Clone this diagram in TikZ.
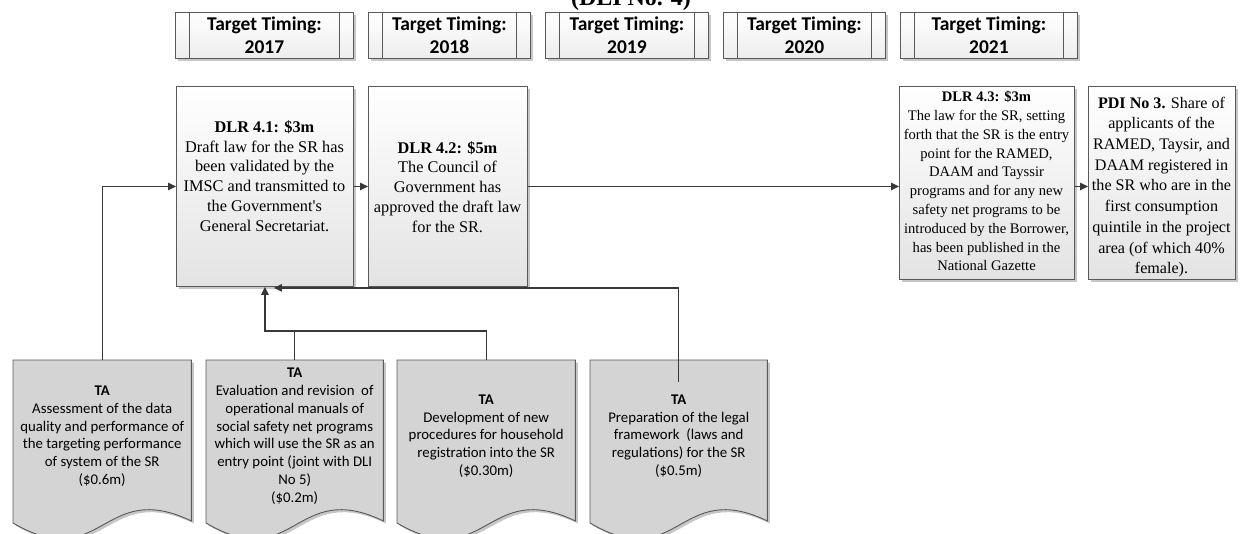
\documentclass[tikz,border=0pt]{standalone}
\usepackage{fontspec}
\setmainfont{Liberation Serif}
\newfontfamily\calfont{Carlito}
\usetikzlibrary{arrows.meta,calc,shadows}
\pgfdeclarelayer{bg}
\pgfsetlayers{bg,main}

\tikzset{
  boxline/.style={draw=black!65, line width=0.9pt},
  boxshadow/.style={drop shadow={shadow xshift=2.5pt,shadow yshift=-2.5pt,fill=black!40,opacity=0.55}},
  timebox/.style={boxline, boxshadow, top color=white, bottom color=black!7,
    minimum height=46pt, inner sep=0pt, anchor=north west, align=center,
    font=\calfont\bfseries\fontsize{19.5}{23.5}\selectfont},
  dlrbox/.style={boxline, boxshadow, top color=white, bottom color=black!11,
    inner sep=0pt, anchor=north west},
  dlrtext/.style={align=center, inner sep=0pt},
  tanode/.style={anchor=north west, minimum height=152pt, inner sep=0pt, align=center,
    font=\calfont\fontsize{14.8}{17.8}\selectfont},
  taout/.style={boxline, fill=black!17, boxshadow},
  link/.style={draw=black!78, line width=1.2pt},
  arrowlink/.style={link, -{Triangle[length=8pt,width=7.5pt]}},
}

\begin{document}
\begin{tikzpicture}[x=1pt,y=-1pt]
\useasboundingbox (0,0) rectangle (1248,533);
\clip (0,0) rectangle (1248,533);

% heading
\node[font=\bfseries\fontsize{24}{28}\selectfont, anchor=base] (title) at (631,5) {(DLI No. 4)};

% target timing boxes
\node[timebox, minimum width=178pt] (t1) at (175,12) {Target Timing:\\2017};
\node[timebox, minimum width=162pt] (t2) at (368,12) {Target Timing:\\2018};
\node[timebox, minimum width=163pt] (t3) at (545,12) {Target Timing:\\2019};
\node[timebox, minimum width=162pt] (t4) at (723,12) {Target Timing:\\2020};
\node[timebox, minimum width=177pt] (t5) at (900,12) {Target Timing:\\2021};
\foreach \n in {t1,t2,t3,t4,t5} {
  \draw[boxline] ([xshift=14pt]\n.north west) -- ([xshift=14pt]\n.south west);
  \draw[boxline] ([xshift=-14pt]\n.north east) -- ([xshift=-14pt]\n.south east);
}

% results boxes
\node[dlrbox, minimum width=177pt, minimum height=200pt] (d1) at (176,86) {};
\node[dlrbox, minimum width=159pt, minimum height=200pt] (d2) at (368,86) {};
\node[dlrbox, minimum width=175pt, minimum height=193pt] (d3) at (899,86) {};
\node[dlrbox, minimum width=147pt, minimum height=193pt] (pdi) at (1088,86) {};

\node[dlrtext, font=\fontsize{16.3}{19.8}\selectfont] (d1t) at (264.5,176)
  {\textbf{DLR 4.1: \$3m}\\Draft law for the SR has\\been validated by the\\IMSC and transmitted to\\the Government\textquotesingle s\\General Secretariat.};
\node[dlrtext, font=\fontsize{16.3}{19.8}\selectfont] (d2t) at (447.5,187)
  {\textbf{DLR 4.2: \$5m}\\The Council of\\Government has\\approved the draft law\\for the SR.};
\node[dlrtext, font=\fontsize{14.6}{18.8}\selectfont] (d3t) at (986.5,181)
  {\textbf{DLR 4.3: \$3m}\\The law for the SR, setting\\forth that the SR is the entry\\point for the RAMED,\\DAAM and Tayssir\\programs and for any new\\safety net programs to be\\introduced by the Borrower,\\has been published in the\\National Gazette};
\node[dlrtext, font=\fontsize{16.1}{20.7}\selectfont] (pdit) at (1161.5,187)
  {\textbf{PDI No 3.} Share of\\applicants of the\\RAMED, Taysir, and\\DAAM registered in\\the SR who are in the\\first consumption\\quintile in the project\\area (of which 40\%\\female).};

% technical assistance documents
\node[tanode, minimum width=178pt] (a1) at (13,360)
  {\textbf{TA}\\Assessment of the data\\quality and performance of\\the targeting performance\\of system of the SR\\(\$0.6m)};
\node[tanode, minimum width=177pt] (a2) at (206,360)
  {\textbf{TA}\\Evaluation and revision\ \ of\\operational manuals of\\social safety net programs\\which will use the SR as an\\entry point (joint with DLI\\No 5)\\(\$0.2m)};
\node[tanode, minimum width=178pt] (a3) at (397,360)
  {\textbf{TA}\\Development of new\\procedures for household\\registration into the SR\\(\$0.30m)};
\node[tanode, minimum width=177pt] (a4) at (590,360)
  {\textbf{TA}\\Preparation of the legal\\framework\ \ (laws and\\regulations) for the SR\\(\$0.5m)};

\begin{pgfonlayer}{bg}
\foreach \n in {a1,a2,a3,a4} {
  \path[taout] (\n.north west) -- (\n.north east) -- ([yshift=-161pt]\n.north east)
    .. controls ($(\n.north)+(0,118)$) and ($(\n.north)+(0,215)$) ..
    ([yshift=-163pt]\n.north west) -- cycle;
}
\end{pgfonlayer}

% connectors
\coordinate (bus) at (0,331);
\coordinate (a4in) at ([yshift=-22pt]a4.north);
\draw[arrowlink] (a1.north) |- (d1.west);
\draw[arrowlink] (d1.east) -- (d2.west);
\draw[arrowlink] (d2.east) -- (d2.east -| d3.west);
\draw[arrowlink] (d2.east -| d3.east) -- (d2.east -| pdi.west);
\draw[arrowlink] (a3.north) |- (bus -| d1.south) -- (d1.south);
\draw[link] (a2.north) -- (a2.north |- bus);
\draw[arrowlink] (a4in) |- ([xshift=9pt,yshift=-1pt]d1.south);
\end{tikzpicture}
\end{document}
